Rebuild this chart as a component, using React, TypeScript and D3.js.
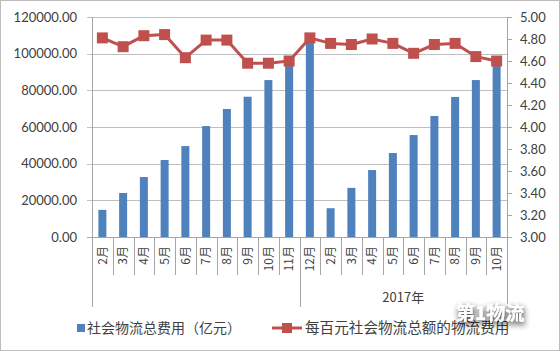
import { useEffect, useRef } from 'react';
import * as d3 from 'd3';

// 月份（两组：2016年 2月-11月，2017年 12月-10月）
const months2016 = ['2月', '3月', '4月', '5月', '6月', '7月', '8月', '9月', '10月', '11月'];
const months2017 = ['12月', '2月', '3月', '4月', '5月', '6月', '7月', '8月', '9月', '10月'];
const groupLabels = ['', '2017年'];

// 社会物流总费用（亿元）
const costValues = [
  14800, 24000, 32700, 42000, 49600, 60500, 69800, 76500, 85600, 95500,
  107500, 15700, 26800, 36500, 45800, 55600, 66000, 76400, 85600, 95000,
];

// 每百元社会物流总额的物流费用
const rateValues = [
  4.81, 4.73, 4.83, 4.84, 4.63, 4.79, 4.79, 4.58, 4.58, 4.6,
  4.81, 4.76, 4.75, 4.8, 4.76, 4.67, 4.75, 4.76, 4.64, 4.6,
];

const leftTicks = [0, 20000, 40000, 60000, 80000, 100000, 120000];
const rightTicks = [3, 3.2, 3.4, 3.6, 3.8, 4, 4.2, 4.4, 4.6, 4.8, 5];

const barName = '社会物流总费用（亿元）';
const lineName = '每百元社会物流总额的物流费用';

const BLUE = '#4f81bd';
const RED = '#c0504d';
const GRID = '#bfbfbf';
const AXIS = '#a6a6a6';
const LATIN = 'Lato, "Open Sans", sans-serif';
const CJK = '"Noto Sans CJK SC", sans-serif';

const App = () => {
  const svgRef = useRef<SVGSVGElement | null>(null);

  useEffect(() => {
    const W = 560;
    const H = 351;
    const margin = { top: 17, right: 53, bottom: 114, left: 92 };
    const width = W - margin.left - margin.right;
    const height = H - margin.top - margin.bottom;

    const root = d3.select(svgRef.current);
    root.selectAll('*').remove();
    root.attr('width', W).attr('height', H);

    const defs = root.append('defs');
    const f = defs
      .append('filter')
      .attr('id', 'wmShadow')
      .attr('x', '-30%')
      .attr('y', '-50%')
      .attr('width', '160%')
      .attr('height', '220%');
    f.append('feGaussianBlur').attr('in', 'SourceAlpha').attr('stdDeviation', 3).attr('result', 'b');
    f.append('feOffset').attr('in', 'b').attr('dx', 1).attr('dy', 3).attr('result', 'o');
    f.append('feComponentTransfer')
      .attr('in', 'o')
      .attr('result', 'c')
      .append('feFuncA')
      .attr('type', 'linear')
      .attr('slope', 0.9);
    const merge = f.append('feMerge');
    merge.append('feMergeNode').attr('in', 'c');
    merge.append('feMergeNode').attr('in', 'SourceGraphic');

    root
      .append('rect')
      .attr('x', 0.5)
      .attr('y', 0.5)
      .attr('width', W - 1)
      .attr('height', H - 1)
      .attr('fill', 'white')
      .attr('stroke', '#bdbdbd');

    const svg = root.append('g').attr('transform', `translate(${margin.left},${margin.top})`);

    const labels = [...months2016, ...months2017];
    const cats = labels.map((m, i) => `${i}`);
    const x = d3.scaleBand().domain(cats).range([0, width]).padding(0);
    const y = d3.scaleLinear().domain([0, 120000]).range([height, 0]);
    const y2 = d3.scaleLinear().domain([3, 5]).range([height, 0]);

    // 网格线
    svg
      .selectAll('.grid')
      .data(leftTicks)
      .join('line')
      .attr('x1', -5)
      .attr('x2', width)
      .attr('y1', (d) => Math.round(y(d)) + 0.5)
      .attr('y2', (d) => Math.round(y(d)) + 0.5)
      .attr('stroke', (d) => (d === 0 ? AXIS : GRID))
      .attr('stroke-width', 1);

    // 左轴
    svg
      .append('line')
      .attr('x1', 0.5)
      .attr('x2', 0.5)
      .attr('y1', 0)
      .attr('y2', height)
      .attr('stroke', AXIS);

    svg
      .selectAll('.ylab')
      .data(leftTicks)
      .join('text')
      .attr('x', -15)
      .attr('y', (d) => y(d))
      .attr('dy', '0.35em')
      .attr('text-anchor', 'end')
      .attr('fill', '#404040')
      .style('font-family', LATIN)
      .style('font-size', '13px')
      .text((d) => d3.format('.2f')(d));

    // 右轴
    svg
      .append('line')
      .attr('x1', width + 0.5)
      .attr('x2', width + 0.5)
      .attr('y1', 0)
      .attr('y2', height)
      .attr('stroke', AXIS);

    svg
      .selectAll('.rtick')
      .data(rightTicks)
      .join('line')
      .attr('x1', width)
      .attr('x2', width + 5)
      .attr('y1', (d) => Math.round(y2(d)) + 0.5)
      .attr('y2', (d) => Math.round(y2(d)) + 0.5)
      .attr('stroke', AXIS);

    svg
      .selectAll('.rlab')
      .data(rightTicks)
      .join('text')
      .attr('x', width + 13)
      .attr('y', (d) => y2(d))
      .attr('dy', '0.35em')
      .attr('fill', '#404040')
      .style('font-family', LATIN)
      .style('font-size', '13px')
      .text((d) => d3.format('.2f')(d));

    // 柱子
    const barW = 8;
    svg
      .selectAll('.bar')
      .data(costValues)
      .join('rect')
      .attr('x', (d, i) => (x(cats[i]) as number) + x.bandwidth() / 2 - barW / 2)
      .attr('y', (d) => y(d))
      .attr('width', barW)
      .attr('height', (d) => height - y(d))
      .attr('fill', BLUE);

    // X 轴分隔线
    const n = cats.length;
    d3.range(n + 1).forEach((i) => {
      const xp = Math.round(i * x.step()) + 0.5;
      const isGroup = i === 0 || i === months2016.length || i === n;
      svg
        .append('line')
        .attr('x1', xp)
        .attr('x2', xp)
        .attr('y1', height)
        .attr('y2', height + (isGroup ? 70 : 38))
        .attr('stroke', AXIS);
    });

    // 月份标签（竖排旋转）
    labels.forEach((lab, i) => {
      const cx = (x(cats[i]) as number) + x.bandwidth() / 2;
      svg
        .append('text')
        .attr('transform', `translate(${cx},${height + 9}) rotate(-90)`)
        .attr('dy', '0.35em')
        .attr('text-anchor', 'end')
        .attr('fill', '#404040')
        .style('font-family', CJK)
        .style('font-size', '12px')
        .text(lab);
    });

    // 分组标签
    groupLabels.forEach((g, gi) => {
      const start = gi === 0 ? 0 : months2016.length;
      const len = gi === 0 ? months2016.length : months2017.length;
      svg
        .append('text')
        .attr('x', (start + len / 2) * x.step())
        .attr('y', height + 60)
        .attr('dy', '0.35em')
        .attr('text-anchor', 'middle')
        .attr('fill', '#404040')
        .style('font-family', CJK)
        .style('font-size', '13px')
        .text(g);
    });

    // 折线
    const line = d3
      .line<number>()
      .x((d, i) => (x(cats[i]) as number) + x.bandwidth() / 2)
      .y((d) => y2(d));

    svg
      .append('path')
      .datum(rateValues)
      .attr('d', line)
      .attr('fill', 'none')
      .attr('stroke', RED)
      .attr('stroke-width', 3)
      .attr('stroke-linejoin', 'round');

    const ms = 11;
    svg
      .selectAll('.mk')
      .data(rateValues)
      .join('rect')
      .attr('x', (d, i) => (x(cats[i]) as number) + x.bandwidth() / 2 - ms / 2)
      .attr('y', (d) => y2(d) - ms / 2)
      .attr('width', ms)
      .attr('height', ms)
      .attr('fill', RED);

    // 图例
    const ly = 328;
    root
      .append('rect')
      .attr('x', 77)
      .attr('y', ly - 4)
      .attr('width', 8)
      .attr('height', 8)
      .attr('fill', BLUE);
    root
      .append('text')
      .attr('x', 87)
      .attr('y', ly)
      .attr('dy', '0.35em')
      .attr('fill', '#404040')
      .style('font-family', CJK)
      .style('font-size', '14px')
      .text(barName);

    root
      .append('line')
      .attr('x1', 272)
      .attr('x2', 302)
      .attr('y1', ly)
      .attr('y2', ly)
      .attr('stroke', RED)
      .attr('stroke-width', 3);
    root
      .append('rect')
      .attr('x', 282)
      .attr('y', ly - 5)
      .attr('width', 10)
      .attr('height', 10)
      .attr('fill', RED);
    root
      .append('text')
      .attr('x', 305)
      .attr('y', ly)
      .attr('dy', '0.35em')
      .attr('fill', '#404040')
      .style('font-family', CJK)
      .style('font-size', '14.6px')
      .text(lineName);

    // 水印
    root
      .append('text')
      .attr('x', 456)
      .attr('y', 320)
      .attr('fill', 'white')
      .attr('filter', 'url(#wmShadow)')
      .style('font-family', CJK)
      .style('font-size', '19px')
      .style('font-weight', 'bold')
      .text('第1物流');
  }, []);

  return (
    <svg
      ref={svgRef}
      style={{ position: 'absolute', left: 0, top: 0, display: 'block' }}
    ></svg>
  );
};

export default App;
